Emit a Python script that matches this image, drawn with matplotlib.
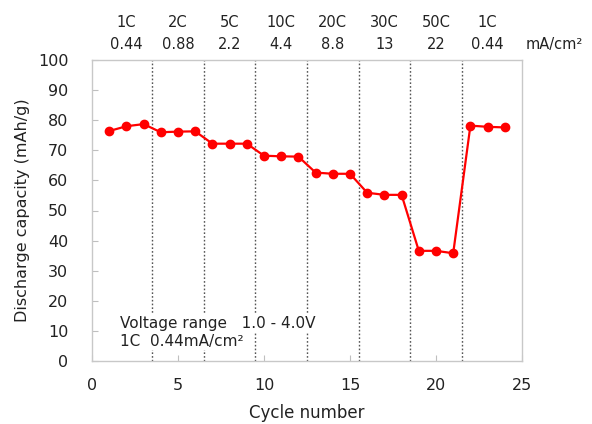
import matplotlib
matplotlib.use("Agg")
import matplotlib.pyplot as plt
import numpy as np

cycles = list(range(1, 25))
capacity = [76.4, 78.0, 78.7, 76.0, 76.2, 76.3,
            72.2, 72.2, 72.2, 68.2, 68.0, 67.9,
            62.6, 62.2, 62.2, 55.9, 55.2, 55.2,
            36.6, 36.6, 35.8, 78.2, 77.8, 77.6]

rates = ["1C", "2C", "5C", "10C", "20C", "30C", "50C", "1C"]
current_density = ["0.44", "0.88", "2.2", "4.4", "8.8", "13", "22", "0.44"]
cycles_per_step = 3

x_ticks = [0, 5, 10, 15, 20, 25]
y_ticks = list(range(0, 101, 10))

fig = plt.figure(figsize=(5.92, 4.24), dpi=100)
ax = fig.add_axes([92/592, 1-361/424, 430/592, 301/424])

ax.plot(cycles, capacity, color="#ff0000", lw=1.6, marker="o", ms=6, zorder=3)

# step boundaries
n = len(rates)
bounds = [cycles_per_step*i + 0.5 for i in range(1, n)]
for b in bounds:
    ax.axvline(b, color="#555555", lw=1.0, ls=(0, (1.2, 1.5)), zorder=1)

ax.set_xlim(0, 25)
ax.set_ylim(0, 100)
ax.set_xticks(x_ticks)
ax.set_yticks(y_ticks)
ax.tick_params(direction="in", length=4, color="#bfbfbf", labelsize=11.5,
               labelcolor="#222222")
ax.tick_params(axis="x", pad=12)
ax.tick_params(axis="y", pad=17)
for s in ax.spines.values():
    s.set_color("#c8c8c8")
    s.set_linewidth(1.0)

ax.set_xlabel("Cycle number", fontsize=12, color="#222222", labelpad=8)
ax.set_ylabel("Discharge capacity (mAh/g)", fontsize=11.5, color="#222222", labelpad=6)

# top annotations
for i, (r, c) in enumerate(zip(rates, current_density)):
    xc = cycles_per_step*i + 2
    ax.text(xc, 112.6, r, ha="center", va="center", fontsize=10.5,
            color="#222222", clip_on=False)
    ax.text(xc, 105.3, c, ha="center", va="center", fontsize=10.5,
            color="#222222", clip_on=False)
ax.text(26.85, 105.3, "mA/cm²", ha="center", va="center", fontsize=10.5,
        color="#222222", clip_on=False)

ax.text(1.65, 12.6, "Voltage range   1.0 - 4.0V", fontsize=11, color="#222222",
        va="center", ha="left", zorder=4,
        bbox=dict(facecolor="white", edgecolor="none", pad=1))
ax.text(1.65, 6.6, "1C  0.44mA/cm²", fontsize=11, color="#222222",
        va="center", ha="left", zorder=4,
        bbox=dict(facecolor="white", edgecolor="none", pad=1))

fig.savefig("out.png", dpi=100)
